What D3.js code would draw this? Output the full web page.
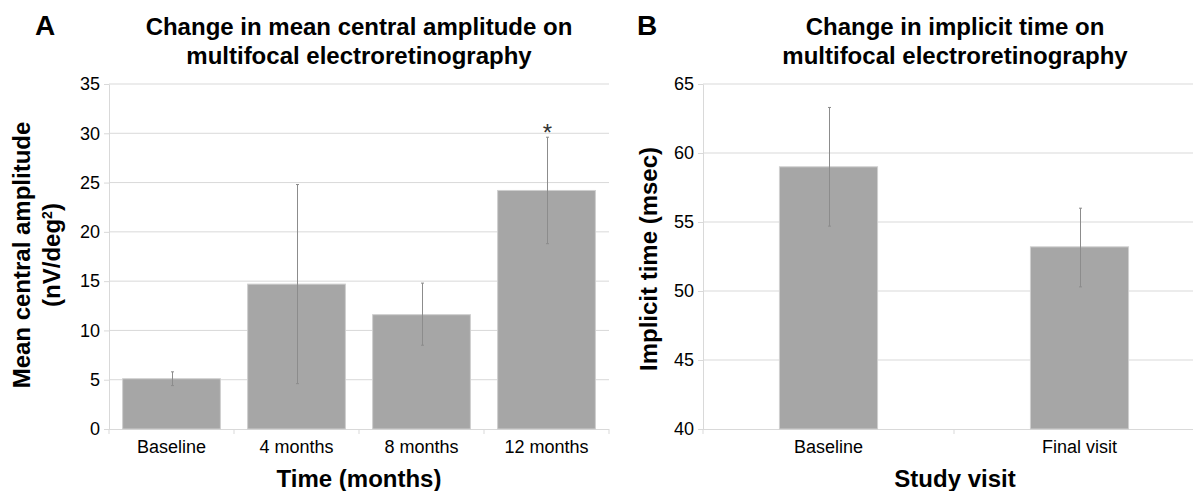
<!DOCTYPE html>
<html lang="en">
	<head>
		<meta charset="UTF-8" />
		<title>Multifocal electroretinography</title>
		<script src="https://d3js.org/d3.v7.min.js"></script>
		<style>
			body { margin: 0; background: #fff; }
			svg { font-family: "Liberation Sans", Arial, sans-serif; display: block; }
			.tick text { font-size: 18px; fill: #000; }
		</style>
	</head>
	<body>
		<svg id="chart"></svg>
		<script>
			// panel A: mean central amplitude
			const ampCategories = ["Baseline", "4 months", "8 months", "12 months"];
			const ampMeans = [5.1, 14.7, 11.6, 24.2];
			const ampLow = [4.4, 4.6, 8.5, 18.8];
			const ampHigh = [5.8, 24.8, 14.8, 29.6];
			const ampTicks = [0, 5, 10, 15, 20, 25, 30, 35];
			const ampStars = ["", "", "", "*"];

			// panel B: implicit time
			const timeCategories = ["Baseline", "Final visit"];
			const timeMeans = [59.0, 53.2];
			const timeLow = [54.7, 50.3];
			const timeHigh = [63.3, 56.0];
			const timeTicks = [40, 45, 50, 55, 60, 65];

			const W = 1193, H = 491;
			const svg = d3.select("#chart").attr("width", W).attr("height", H);

			const gridColor = "#d9d9d9";
			const barFill = "#a6a6a6";
			const barStroke = "#cfcfcf";
			const errColor = "#8c8c8c";

			function drawPanel(p) {
				const g = svg.append("g");
				const y = d3.scaleLinear().domain(p.domain).range([429, 84]);
				const x = d3.scaleBand()
					.domain(p.cats)
					.range(p.xRange)
					.paddingInner(p.padIn)
					.paddingOuter(p.padIn / 2);

				// gridlines
				g.selectAll(".grid")
					.data(p.ticks.slice(1))
					.enter()
					.append("line")
					.attr("x1", p.xRange[0])
					.attr("x2", p.gridEnd)
					.attr("y1", (d) => y(d))
					.attr("y2", (d) => y(d))
					.attr("stroke", gridColor)
					.attr("stroke-width", 1);

				// y axis
				const yAxis = g.append("g")
					.attr("transform", `translate(${p.xRange[0]},0)`)
					.call(d3.axisLeft(y).tickValues(p.ticks).tickSize(5).tickPadding(4).tickSizeOuter(0));
				yAxis.select(".domain").attr("stroke", gridColor);
				yAxis.selectAll(".tick line").attr("stroke", gridColor);
				yAxis.selectAll(".tick text").attr("font-family", null);

				// x axis line and category ticks
				g.append("line")
					.attr("x1", p.xRange[0])
					.attr("x2", p.gridEnd)
					.attr("y1", 429.5)
					.attr("y2", 429.5)
					.attr("stroke", gridColor);
				const step = x.step();
				g.selectAll(".xtick")
					.data(d3.range(p.cats.length + 1))
					.enter()
					.append("line")
					.attr("x1", (i) => p.xRange[0] + i * step)
					.attr("x2", (i) => p.xRange[0] + i * step)
					.attr("y1", 429)
					.attr("y2", 434)
					.attr("stroke", gridColor);

				// bars
				g.selectAll(".bar")
					.data(p.means)
					.enter()
					.append("rect")
					.attr("x", (d, i) => x(p.cats[i]) + 0.5)
					.attr("y", (d) => y(d))
					.attr("width", x.bandwidth() - 1)
					.attr("height", (d) => y(p.domain[0]) - y(d))
					.attr("fill", barFill)
					.attr("stroke", barStroke)
					.attr("stroke-width", 1);

				// error bars
				const cx = (i) => Math.round(x(p.cats[i]) + x.bandwidth() / 2) + 0.5;
				g.selectAll(".err")
					.data(p.means)
					.enter()
					.append("line")
					.attr("x1", (d, i) => cx(i))
					.attr("x2", (d, i) => cx(i))
					.attr("y1", (d, i) => y(p.low[i]))
					.attr("y2", (d, i) => y(p.high[i]))
					.attr("stroke", errColor)
					.attr("stroke-width", 1);
				["low", "high"].forEach((k) => {
					g.selectAll(".cap-" + k)
						.data(p[k])
						.enter()
						.append("line")
						.attr("x1", (d, i) => cx(i) - 1.5)
						.attr("x2", (d, i) => cx(i) + 1.5)
						.attr("y1", (d) => y(d))
						.attr("y2", (d) => y(d))
						.attr("stroke", errColor)
						.attr("stroke-width", 1);
				});

				// significance marks
				if (p.stars) {
					g.selectAll(".star")
						.data(p.stars)
						.enter()
						.append("text")
						.attr("x", (d, i) => cx(i))
						.attr("y", (d, i) => y(p.high[i]) + 4)
						.attr("text-anchor", "middle")
						.attr("font-size", "24px")
						.attr("fill", "#333")
						.text((d) => d);
				}

				// category labels
				g.selectAll(".cat")
					.data(p.cats)
					.enter()
					.append("text")
					.attr("x", (d) => x(d) + x.bandwidth() / 2)
					.attr("y", 453)
					.attr("text-anchor", "middle")
					.attr("font-size", "18px")
					.text((d) => d);

				// x title
				g.append("text")
					.attr("x", p.xTitleX)
					.attr("y", 487)
					.attr("text-anchor", "middle")
					.attr("font-size", "24px")
					.attr("font-weight", "bold")
					.text(p.xTitle);

				// y title
				p.yTitle.forEach((line, i) => {
					const t = g.append("text")
						.attr("transform", `translate(${p.yTitleX + i * 30},${p.yTitleY}) rotate(-90)`)
						.attr("text-anchor", "middle")
						.attr("font-size", "24px")
						.attr("font-weight", "bold");
					if (Array.isArray(line)) {
						t.append("tspan").text(line[0]);
						t.append("tspan").attr("baseline-shift", "super").attr("font-size", "14px").text(line[1]);
						t.append("tspan").text(line[2]);
					} else {
						t.text(line);
					}
				});

				// chart title
				p.title.forEach((line, i) => {
					g.append("text")
						.attr("x", p.titleX)
						.attr("y", 35 + i * 29)
						.attr("text-anchor", "middle")
						.attr("font-size", "24px")
						.attr("font-weight", "bold")
						.text(line);
				});

				// panel letter
				g.append("text")
					.attr("x", p.letterX)
					.attr("y", 35)
					.attr("font-size", "28px")
					.attr("font-weight", "bold")
					.text(p.letter);
			}

			drawPanel({
				cats: ampCategories,
				means: ampMeans,
				low: ampLow,
				high: ampHigh,
				ticks: ampTicks,
				stars: ampStars,
				domain: [0, 35],
				xRange: [109, 609],
				gridEnd: 609,
				padIn: 0.21,
				xTitle: "Time (months)",
				xTitleX: 359,
				yTitle: ["Mean central amplitude", ["(nV/deg", "2", ")"]],
				yTitleX: 30,
				yTitleY: 255,
				title: ["Change in mean central amplitude on", "multifocal electroretinography"],
				titleX: 359,
				letter: "A",
				letterX: 35
			});

			drawPanel({
				cats: timeCategories,
				means: timeMeans,
				low: timeLow,
				high: timeHigh,
				ticks: timeTicks,
				stars: null,
				domain: [40, 65],
				xRange: [703, 1205],
				gridEnd: 1205,
				padIn: 0.605,
				xTitle: "Study visit",
				xTitleX: 955,
				yTitle: ["Implicit time (msec)"],
				yTitleX: 657,
				yTitleY: 259,
				title: ["Change in implicit time on", "multifocal electroretinography"],
				titleX: 955,
				letter: "B",
				letterX: 637
			});
		</script>
	</body>
</html>
